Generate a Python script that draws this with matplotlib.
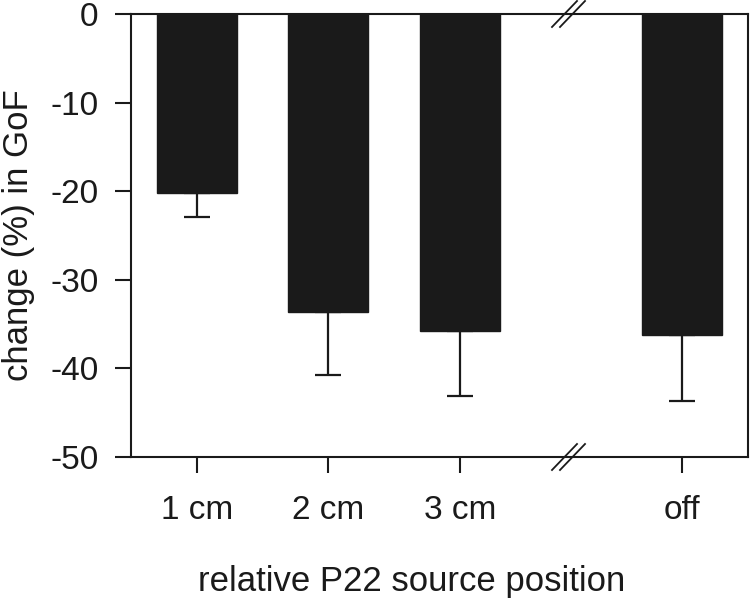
import matplotlib
matplotlib.use("Agg")
import matplotlib.pyplot as plt
import numpy as np

categories = ["1 cm", "2 cm", "3 cm", "off"]
positions = [0, 1, 2, 3.69]
values = [-20.2, -33.6, -35.8, -36.2]
errors = [2.7, 7.1, 7.3, 7.5]
yticks = [0, -10, -20, -30, -40, -50]
ytick_labels = ["0", "-10", "-20", "-30", "-40", "-50"]

plt.rcParams['font.family'] = ['Liberation Sans', 'DejaVu Sans']
fig = plt.figure(figsize=(7.5, 6.01), dpi=100)
ax = fig.add_axes([131/750, (601-457)/601, (748-131)/750, (457-14)/601])

ax.bar(positions, values, width=0.61, color="#1a1a1a", edgecolor="#1a1a1a", zorder=2)
ax.errorbar(positions, values, yerr=[errors, [0]*len(errors)], fmt="none",
            ecolor="#1a1a1a", elinewidth=1.6, capsize=9.5, capthick=1.6, zorder=3)

ax.set_xlim(-0.5, 4.19)
ax.set_ylim(-50, 0)
ax.set_yticks(yticks)
ax.set_yticklabels(ytick_labels)
ax.set_xticks(positions)
ax.set_xticklabels(categories)
ax.tick_params(axis="both", direction="out", length=11.5, width=1.5,
               labelsize=24, color="#1a1a1a", labelcolor="#1a1a1a")
ax.tick_params(axis="y", pad=12)
ax.tick_params(axis="x", pad=16)
for s in ax.spines.values():
    s.set_linewidth(1.5)
    s.set_color("#1a1a1a")

ax.set_ylabel("change (%) in GoF", fontsize=25, color="#1a1a1a")
ax.yaxis.set_label_coords((19 - 131) / 617, 0.5)
ax.set_xlabel("relative P22 source position", fontsize=25, color="#1a1a1a")
ax.xaxis.set_label_coords((412 - 131) / 617, (457 - 581) / 443)
ax.xaxis.label.set_va("center")
ax.yaxis.label.set_va("center")

# axis break marks on bottom and top spines
W, H = 617.0, 443.0
for yc in (0.0, 1.0):
    for off in (0.0, 8.0):
        x0 = (552 + off - 131) / W
        x1 = (577 + off - 131) / W
        ax.plot([x0, x1], [yc - 13/H, yc + 13/H], transform=ax.transAxes,
                color="#1a1a1a", lw=1.3, clip_on=False, zorder=5)

fig.savefig("out.png", dpi=100)
